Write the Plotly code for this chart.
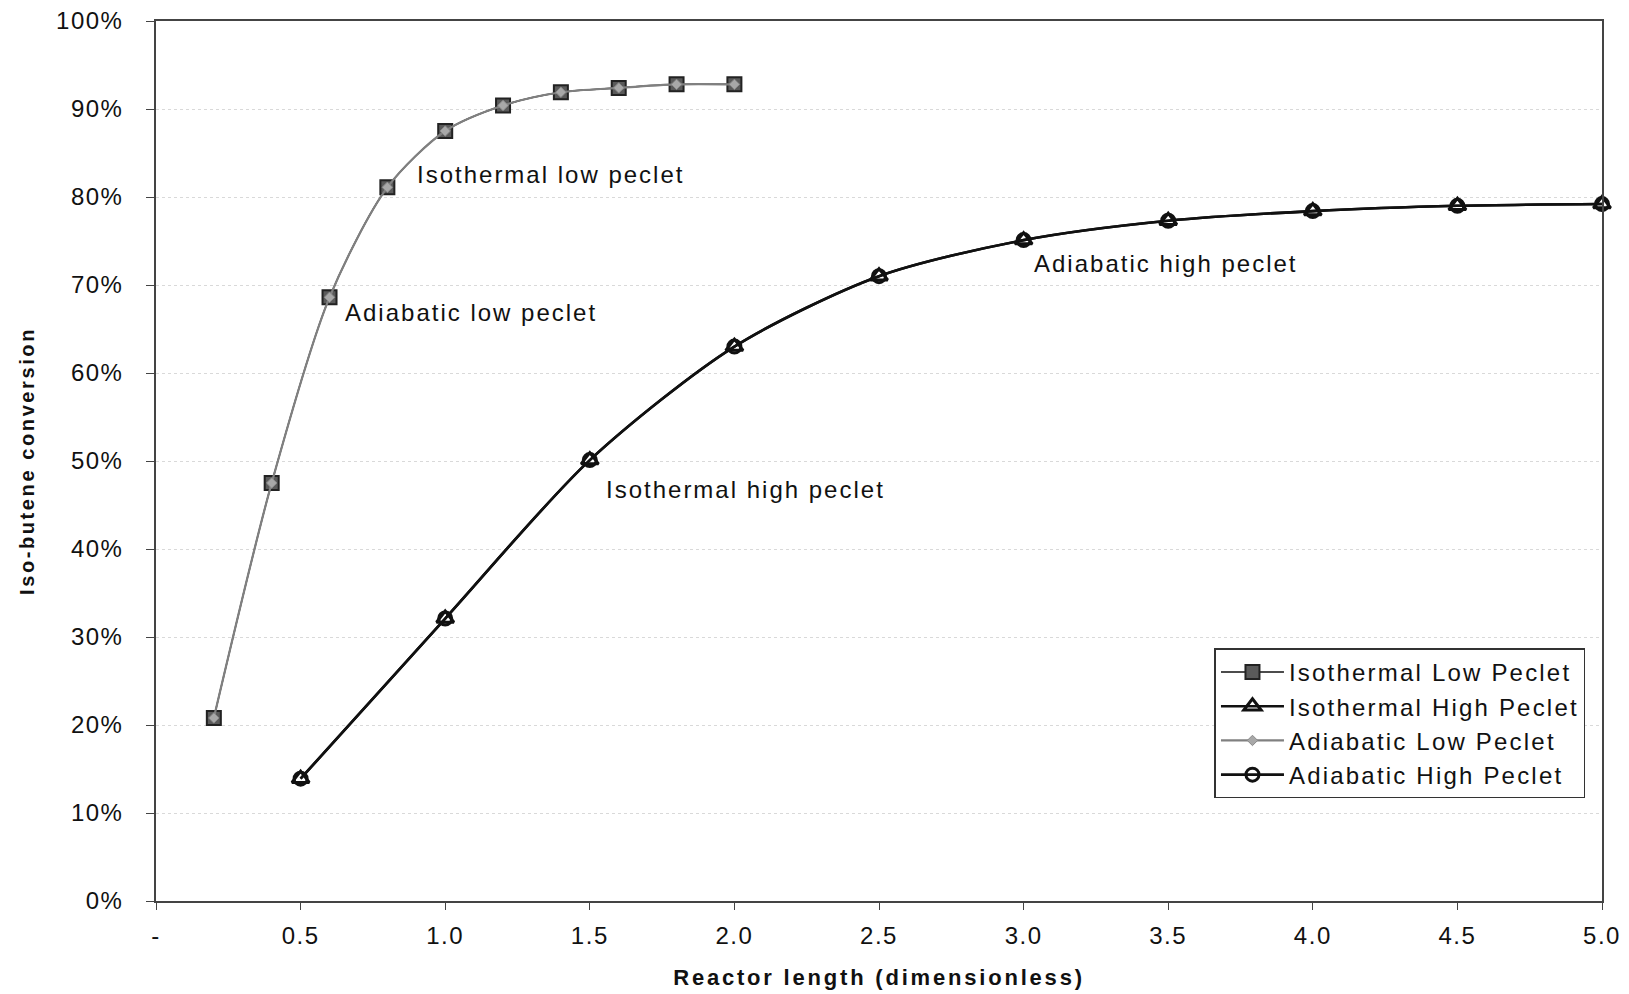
import plotly.graph_objects as go

# ---------------- data ----------------
low_x = [0.2, 0.4, 0.6, 0.8, 1.0, 1.2, 1.4, 1.6, 1.8, 2.0]
iso_low = [0.208, 0.475, 0.686, 0.811, 0.875, 0.904, 0.919, 0.924, 0.928, 0.928]
adi_low = [0.208, 0.475, 0.686, 0.811, 0.875, 0.904, 0.919, 0.924, 0.928, 0.928]

high_x = [0.5, 1.0, 1.5, 2.0, 2.5, 3.0, 3.5, 4.0, 4.5, 5.0]
iso_high = [0.139, 0.321, 0.501, 0.630, 0.710, 0.751, 0.773, 0.784, 0.790, 0.792]
adi_high = [0.139, 0.321, 0.501, 0.630, 0.710, 0.751, 0.773, 0.784, 0.790, 0.792]

series_names = ["Isothermal Low Peclet", "Isothermal High Peclet",
                "Adiabatic Low Peclet", "Adiabatic High Peclet"]

x_tickvals = [0, 0.5, 1.0, 1.5, 2.0, 2.5, 3.0, 3.5, 4.0, 4.5, 5.0]
x_ticktext = ["-", "0.5", "1.0", "1.5", "2.0", "2.5", "3.0", "3.5", "4.0", "4.5", "5.0"]
y_tickvals = [0, 0.1, 0.2, 0.3, 0.4, 0.5, 0.6, 0.7, 0.8, 0.9, 1.0]
y_ticktext = ["0%", "10%", "20%", "30%", "40%", "50%", "60%", "70%", "80%", "90%", "100%"]

labels = ["Isothermal low peclet", "Adiabatic low peclet",
          "Isothermal high peclet", "Adiabatic high peclet"]
label_x = [0.896, 0.647, 1.549, 3.029]
label_y = [0.826, 0.669, 0.468, 0.724]


def ls(text, px):
    return f'<span style="letter-spacing:{px}px">{text}</span>'


FONT = "Liberation Sans, Arial, sans-serif"
TXT = "#111111"

fig = go.Figure()

# Isothermal low (dark square, under)
fig.add_trace(go.Scatter(
    x=low_x, y=iso_low, name=ls(series_names[0], 2.2), mode="lines+markers",
    line=dict(color="#111111", width=1.5, shape="spline", smoothing=0.8),
    marker=dict(symbol="square", size=14, color="#5a5a5a",
                line=dict(color="#222222", width=2)),
    cliponaxis=False,
))
# Isothermal high
fig.add_trace(go.Scatter(
    x=high_x, y=iso_high, name=ls(series_names[1], 2.2), mode="lines+markers",
    line=dict(color="#111111", width=2.6, shape="spline", smoothing=0.8),
    marker=dict(symbol="triangle-up-open", size=15, color="#111111",
                line=dict(color="#111111", width=3)),
    cliponaxis=False,
))
# Adiabatic low (grey, on top)
fig.add_trace(go.Scatter(
    x=low_x, y=adi_low, name=ls(series_names[2], 2.2), mode="lines+markers",
    line=dict(color="#808080", width=2.2, shape="spline", smoothing=0.8),
    marker=dict(symbol="diamond", size=8, color="#a8a8a8",
                line=dict(color="#8a8a8a", width=1)),
    cliponaxis=False,
))
# Adiabatic high
fig.add_trace(go.Scatter(
    x=high_x, y=adi_high, name=ls(series_names[3], 2.2), mode="lines+markers",
    line=dict(color="#111111", width=2.6, shape="spline", smoothing=0.8),
    marker=dict(symbol="circle-open", size=13, color="#111111",
                line=dict(color="#111111", width=3)),
    cliponaxis=False,
))

for t, xv, yv in zip(labels, label_x, label_y):
    fig.add_annotation(
        x=xv, y=yv, xref="x", yref="y", text=ls(t, 2.0), showarrow=False,
        xanchor="left", yanchor="middle",
        font=dict(family=FONT, size=24, color=TXT),
    )

fig.update_layout(
    width=1629, height=994,
    margin=dict(l=156, r=27, t=21, b=93, autoexpand=False),
    paper_bgcolor="white", plot_bgcolor="white",
    font=dict(family=FONT, color=TXT),
    showlegend=True,
    legend=dict(
        x=0.732, y=0.287, xanchor="left", yanchor="top",
        bgcolor="white", bordercolor="#333333", borderwidth=1.5,
        font=dict(family=FONT, size=24, color=TXT),
        itemwidth=63, tracegroupgap=0,
    ),
)

fig.update_xaxes(
    range=[0, 5], tickvals=x_tickvals,
    ticktext=[ls(t, 1.5) for t in x_ticktext],
    ticks="outside", ticklen=7, tickwidth=1.2, tickcolor="#444444",
    showline=True, linecolor="#444444", linewidth=1.5, mirror=True,
    showgrid=False, zeroline=False,
    tickfont=dict(family=FONT, size=24, color=TXT),
    ticklabelstandoff=5,
    title=dict(text="<b>" + ls("Reactor length (dimensionless)", 2.8) + "</b>",
               font=dict(family=FONT, size=22, color=TXT), standoff=22),
    automargin=False,
)
fig.update_yaxes(
    range=[0, 1], tickvals=y_tickvals,
    ticktext=[ls(t, 1.5) for t in y_ticktext],
    ticks="outside", ticklen=8, tickwidth=1.2, tickcolor="#444444",
    showline=True, linecolor="#444444", linewidth=1.5, mirror=True,
    showgrid=True, gridcolor="#d9d9d9", gridwidth=1, griddash="dot",
    zeroline=False,
    tickfont=dict(family=FONT, size=24, color=TXT),
    ticklabelstandoff=18,
    title=dict(text="<b>" + ls("Iso-butene conversion", 2.6) + "</b>",
               font=dict(family=FONT, size=20, color=TXT), standoff=16),
    automargin=False,
)

fig.write_html("out.html")
